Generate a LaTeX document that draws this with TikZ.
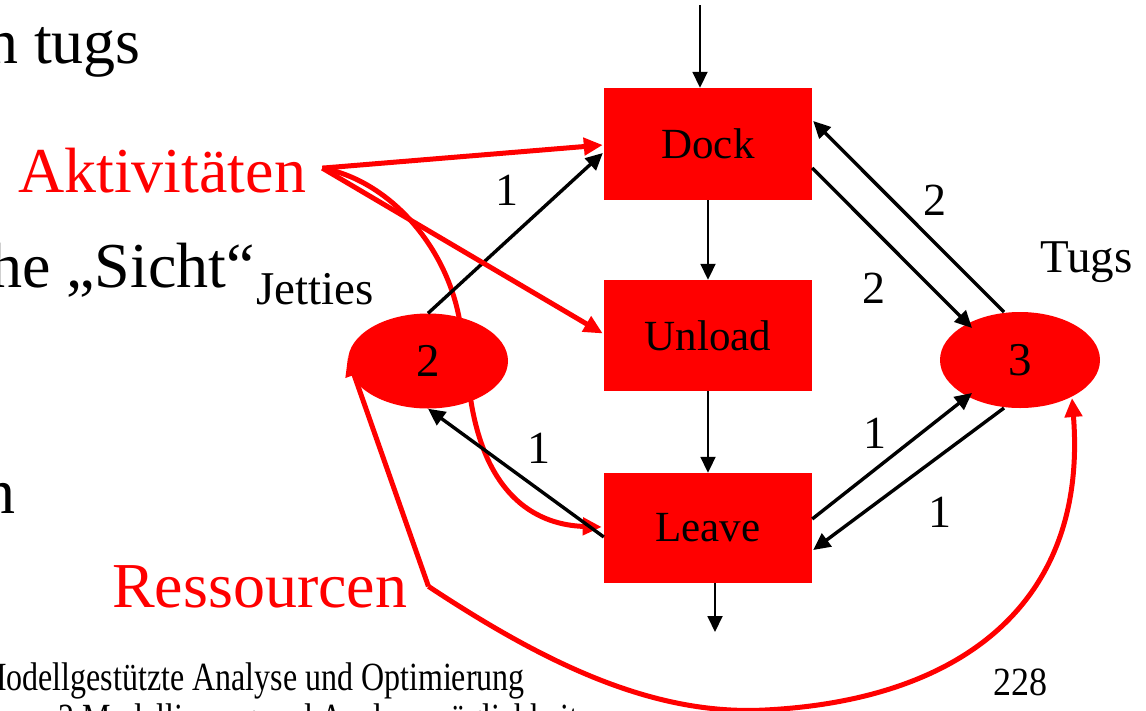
\documentclass[tikz,border=0pt]{standalone}
\usepackage{fontspec}
\setmainfont{Liberation Serif}
\newfontfamily\footfont{Liberation Serif}[FakeStretch=0.8]
\newfontfamily\pagefont{Liberation Serif}[FakeStretch=0.9]
\usetikzlibrary{arrows.meta,shapes.geometric,calc}
\pgfdeclarelayer{back}
\pgfsetlayers{back,main}
\definecolor{actred}{RGB}{255,0,0}

\tikzset{
  fs/.style={font=\fontsize{#1}{#1}\selectfont},
  activity/.style={fill=actred, minimum width=208pt, minimum height=112pt, inner sep=0pt, fs=43},
  resource/.style={ellipse, fill=actred, minimum width=160pt, minimum height=95pt, inner sep=0pt, fs=47},
  seqflow/.style={line width=1.9pt, -{Triangle[length=16pt,width=15pt]}},
  usearc/.style={line width=3.4pt, -{Triangle[length=17pt,width=16pt]}},
  wlabel/.style={fs=46, inner sep=0pt},
  redptr/.style={draw=actred, line width=5pt, -{Triangle[length=19pt,width=17pt]}},
  redlabel/.style={text=actred, fs=64, inner sep=0pt, anchor=base west},
  bodytext/.style={fs=64, inner sep=0pt, anchor=base east},
}

\begin{document}
\begin{tikzpicture}[x=1pt, y=-1pt]
\useasboundingbox (0,0) rectangle (1146,710);
\clip (0,0) rectangle (1146,710);

% body text of the slide, partly outside the frame
\node[bodytext] (t1) at (141,63) {n tugs};
\node[bodytext] (t2) at (255,287) {he „Sicht“};
\node[bodytext] (t3) at (16,513) {n};

% footer
\node[font={\footfont\fontsize{40}{40}\selectfont}, inner sep=0pt, anchor=base east] (foot1) at (525,690) {Modellgestützte Analyse und Optimierung};
\node[font={\footfont\fontsize{40}{40}\selectfont}, inner sep=0pt, anchor=base west] (foot2) at (58,731) {2 Modellierung und Analysemöglichkeiten};
\node[font={\pagefont\fontsize{40}{40}\selectfont}, inner sep=0pt, anchor=base west] (page) at (993,695) {228};

% activities and resources
\node[activity] (dock) at (708,144) {Dock};
\node[activity, minimum height=111pt] (unload) at (708,335.5) {Unload};
\node[activity, minimum height=110pt] (leave) at (708,528) {Leave};
\node[resource] (jet) at (428,361) {2};
\node[resource, minimum height=96pt] (tug) at (1020,360) {3};

\node[fs=47, anchor=base west, inner sep=0pt] (jetlbl) at (256,304) {Jetties};
\node[fs=47, anchor=base west, inner sep=0pt] (tuglbl) at (1040,272) {Tugs};

% process flow
\coordinate (src) at (700,5);
\coordinate (sink) at (715,632);
\draw[seqflow] (src) -- ($(dock.north)+(-8,0)$);
\draw[seqflow] (dock.south) -- (unload.north);
\draw[seqflow] (unload.south) -- (leave.north);
\draw[seqflow] ($(leave.south)+(7,0)$) -- (sink);

% resource usage
\draw[usearc] (jet.north) -- ($(dock.west)+(-1,9)$);
\draw[usearc] ($(leave.west)+(0,9)$) -- (jet.south);
\draw[usearc] ($(dock.east)+(0,24)$) -- ($(tug.center)+(-48,-32)$);
\draw[usearc] ($(tug.center)+(-16,-48)$) -- ($(dock.east)+(1,-23)$);
\draw[usearc] ($(leave.east)+(0,-9)$) -- ($(tug.center)+(-48,33)$);
\draw[usearc] ($(tug.center)+(-16,48)$) -- ($(leave.east)+(1,22)$);

\node[wlabel] (w1) at (507,190) {1};
\node[wlabel] (w2) at (539,448) {1};
\node[wlabel] (w3) at (935,200) {2};
\node[wlabel] (w4) at (874,288) {2};
\node[wlabel] (w5) at (875,433) {1};
\node[wlabel] (w6) at (940,512) {1};

% annotations
\node[redlabel] (akt) at (18,192) {Aktivitäten};
\node[redlabel] (res) at (112,607) {Ressourcen};

\draw[redptr] ($(akt.east)+(16,-2)$) -- ($(dock.west)+(-1,1)$);
\draw[redptr] ($(akt.east)+(16,-2)$) -- ($(unload.west)+(-1,-2)$);
\begin{pgfonlayer}{back}
\draw[redptr] ($(akt.east)+(16,-2)$) .. controls (395,182) and (452,255) .. (461,330)
  -- (470,395) .. controls (485,500) and (540,525) .. ($(leave.west)+(-2,-1)$);
\end{pgfonlayer}
\draw[redptr] ($(res.east)+(21,0)$) -- ($(jet.west)+(0,-4)$);
\draw[redptr] ($(res.east)+(21,0)$) .. controls (540,660) and (650,716) .. (765,710)
  .. controls (965,700) and (1088,600) .. ($(tug.center)+(52,38)$);
\end{tikzpicture}
\end{document}
